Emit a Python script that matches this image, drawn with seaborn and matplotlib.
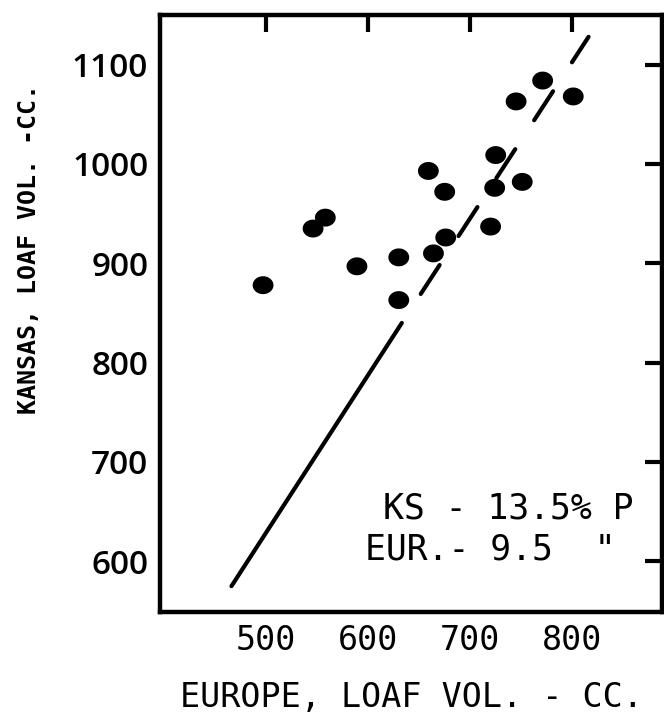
import numpy as np
import pandas as pd
import matplotlib
matplotlib.use("Agg")
import matplotlib.pyplot as plt
import seaborn as sns

# ---- data ----
europe = [497, 546, 558, 589, 630, 630, 664, 676, 659, 675, 720, 724, 725, 751, 745, 771, 801]
kansas = [878, 935, 946, 897, 906, 863, 910, 926, 993, 972, 937, 976, 1009, 982, 1063, 1084, 1068]

fit_x_solid = [466, 633]
fit_y_solid = [575, 840]
fit_x_dash = [633, 816]
fit_y_dash = [840, 1128]

x_ticks = [500, 600, 700, 800]
y_ticks = [600, 700, 800, 900, 1000, 1100]

x_label = "EUROPE, LOAF VOL. - CC."
y_label = "KANSAS, LOAF VOL. -CC."
note_line1 = "KS - 13.5% P"
note_line2 = 'EUR.- 9.5  "'

sns.set_style("white")
plt.rcParams["font.family"] = ["DejaVu Sans Mono", "DejaVu Sans"]
plt.rcParams["text.color"] = "black"
plt.rcParams["axes.labelcolor"] = "black"
plt.rcParams["xtick.color"] = "black"
plt.rcParams["ytick.color"] = "black"

fig = plt.figure(figsize=(6.64, 7.21), dpi=100)
ax = fig.add_axes([0.241, 0.1512, 0.756, 0.828])

# slightly oval marker
t = np.linspace(0, 2 * np.pi, 60)
oval = np.column_stack([np.cos(t), 0.86 * np.sin(t)])

pts = pd.DataFrame({"europe": europe, "kansas": kansas})
sns.scatterplot(data=pts, x="europe", y="kansas", ax=ax, marker=oval, s=225,
                color="black", edgecolor="none", linewidth=0, zorder=3)

solid = pd.DataFrame({"x": fit_x_solid, "y": fit_y_solid})
dash = pd.DataFrame({"x": fit_x_dash, "y": fit_y_dash})
sns.lineplot(data=solid, x="x", y="y", ax=ax, color="black", lw=3.0,
             sort=False, solid_capstyle="round")
sns.lineplot(data=dash, x="x", y="y", ax=ax, color="black", lw=3.0, sort=False,
             linestyle=(8.3, (8.3, 8.3)), dash_capstyle="round")

ax.set_xlim(396, 888)
ax.set_ylim(549, 1150)
ax.set_xticks(x_ticks)
ax.set_yticks(y_ticks)
ax.set_xticklabels([str(v) for v in x_ticks], fontsize=24,
                   family=["DejaVu Sans Mono"])
ax.set_yticklabels([str(v) for v in y_ticks], fontsize=24,
                   family=["Open Sans"], fontweight="semibold")

ax.tick_params(axis="both", direction="in", length=12, width=3.0,
               top=True, right=True, color="black", labelcolor="black")
ax.tick_params(axis="x", pad=9)
ax.tick_params(axis="y", pad=8.5)

for sp in ax.spines.values():
    sp.set_visible(True)
    sp.set_linewidth(3.2)
    sp.set_color("black")

ax.set_xlabel(x_label, fontsize=24, labelpad=17, color="black")
ax.set_ylabel(y_label, fontsize=18, fontweight="bold", color="black", va="center")
ax.yaxis.set_label_coords(-0.262, 0.608)

ax.text(0.444, 0.174, note_line1, transform=ax.transAxes, fontsize=25,
        ha="left", va="center", color="black")
ax.text(0.408, 0.104, note_line2, transform=ax.transAxes, fontsize=25,
        ha="left", va="center", color="black")

ax.grid(False)
fig.savefig("out.png", dpi=100, facecolor="white")
